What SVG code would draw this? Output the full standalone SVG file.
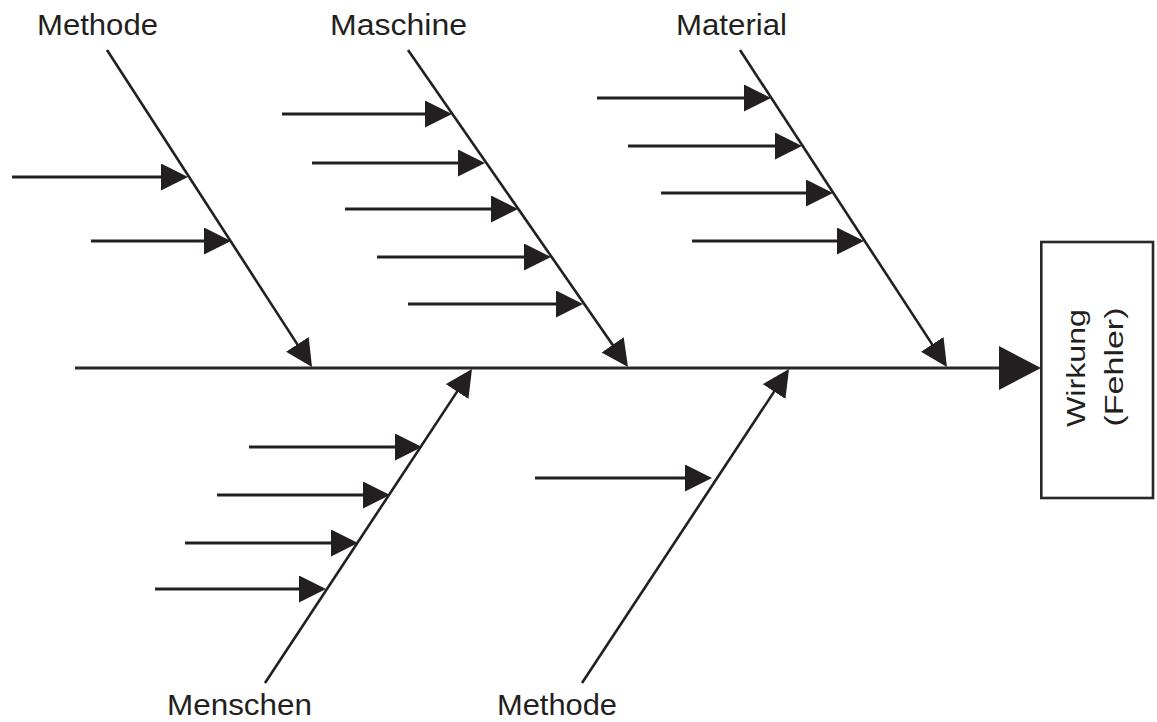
<svg xmlns="http://www.w3.org/2000/svg" width="1157" height="722" viewBox="0 0 1157 722">
  <style>
    .lbl { font-family: "Liberation Sans", Arial, sans-serif; font-size: 30px; fill: #231f20; }
    .eff { font-family: "Liberation Sans", Arial, sans-serif; font-size: 25px; fill: #231f20; }
    .spine { stroke: #2a2728; stroke-width: 3.2; fill: none; }
    .branch { stroke: #231f20; stroke-width: 2.6; fill: none; marker-end: url(#ah); }
    .sub { stroke: #231f20; stroke-width: 3; fill: none; marker-end: url(#ah); }
    .box { fill: #ffffff; stroke: #2a2728; stroke-width: 2.6; }
  </style>
  <defs>
    <marker id="ah" markerUnits="userSpaceOnUse" markerWidth="27" markerHeight="27" viewBox="0 0 27 27" refX="17" refY="13.5" orient="auto">
      <path d="M0,0 L27,13.5 L0,27 z" fill="#231f20"/>
    </marker>
    <marker id="big" markerUnits="userSpaceOnUse" markerWidth="42" markerHeight="44" viewBox="0 0 42 44" refX="32" refY="22" orient="auto">
      <path d="M0,0 L42,22 L0,44 z" fill="#231f20"/>
    </marker>
  </defs>
  <rect width="1157" height="722" fill="#ffffff"/>

  <g id="connectors">
    <line class="spine" x1="75" y1="368" x2="1031" y2="368" marker-end="url(#big)"/>
    <!-- main branches -->
    <line class="branch" x1="107" y1="50" x2="306.6" y2="358.6"/>
    <line class="branch" x1="408" y1="50" x2="622.3" y2="358.8"/>
    <line class="branch" x1="740" y1="50" x2="941.5" y2="358.6"/>
    <line class="branch" x1="265" y1="683" x2="466.5" y2="377.4"/>
    <line class="branch" x1="582" y1="683" x2="783.5" y2="377.4"/>
    <!-- Methode (top) causes -->
    <line class="sub" x1="12" y1="177" x2="178" y2="177"/>
    <line class="sub" x1="91" y1="241" x2="221" y2="241"/>
    <!-- Maschine causes -->
    <line class="sub" x1="282" y1="114" x2="442" y2="114"/>
    <line class="sub" x1="312" y1="163" x2="475" y2="163"/>
    <line class="sub" x1="345" y1="209" x2="508" y2="209"/>
    <line class="sub" x1="377" y1="257" x2="541" y2="257"/>
    <line class="sub" x1="408" y1="304" x2="573" y2="304"/>
    <!-- Material causes -->
    <line class="sub" x1="597" y1="98" x2="761" y2="98"/>
    <line class="sub" x1="628" y1="146" x2="792" y2="146"/>
    <line class="sub" x1="661" y1="193" x2="823" y2="193"/>
    <line class="sub" x1="692" y1="241" x2="854" y2="241"/>
    <!-- Menschen causes -->
    <line class="sub" x1="249" y1="447" x2="412" y2="447"/>
    <line class="sub" x1="217" y1="495" x2="380" y2="495"/>
    <line class="sub" x1="185" y1="543" x2="348" y2="543"/>
    <line class="sub" x1="155" y1="589" x2="316" y2="589"/>
    <!-- Methode (bottom) causes -->
    <line class="sub" x1="535" y1="478" x2="702" y2="478"/>
  </g>

  <g id="node-methode-top">
    <text class="lbl" x="37" y="35" textLength="121" lengthAdjust="spacingAndGlyphs">Methode</text>
  </g>
  <g id="node-maschine">
    <text class="lbl" x="330" y="35" textLength="137" lengthAdjust="spacingAndGlyphs">Maschine</text>
  </g>
  <g id="node-material">
    <text class="lbl" x="676" y="35" textLength="111" lengthAdjust="spacingAndGlyphs">Material</text>
  </g>
  <g id="node-menschen">
    <text class="lbl" x="167" y="715" textLength="145" lengthAdjust="spacingAndGlyphs">Menschen</text>
  </g>
  <g id="node-methode-bottom">
    <text class="lbl" x="497" y="715" textLength="120" lengthAdjust="spacingAndGlyphs">Methode</text>
  </g>
  <g id="node-wirkung">
    <rect class="box" x="1041.3" y="242" width="111.7" height="256"/>
    <text class="eff" transform="translate(1085,368) rotate(-90)" text-anchor="middle" textLength="118" lengthAdjust="spacingAndGlyphs">Wirkung</text>
    <text class="eff" transform="translate(1123,367) rotate(-90)" text-anchor="middle" textLength="119" lengthAdjust="spacingAndGlyphs">(Fehler)</text>
  </g>
</svg>
